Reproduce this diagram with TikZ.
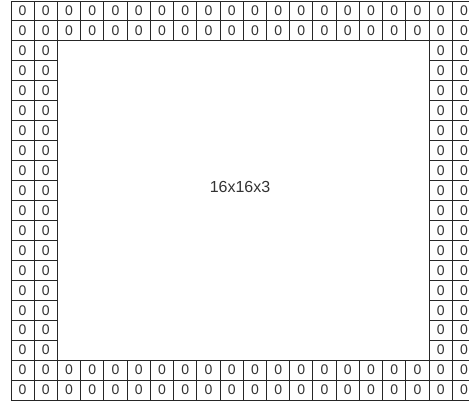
\documentclass[tikz,border=0pt]{standalone}
\usepackage{fontspec}
\setmainfont{Liberation Sans}
\begin{document}
\begin{tikzpicture}[x=1pt, y=-1pt,
    padcell/.style={draw=black!85, line width=1pt, rectangle, inner sep=0pt,
        minimum width=23.23pt, minimum height=19.95pt,
        text=black!80, font=\fontsize{14}{14}\selectfont}]
    \useasboundingbox (0,0) rectangle (469,407);

    % 上下 2 行ずつのゼロパディング
    \foreach \r in {0,1,18,19} {
        \foreach \c in {0,...,19} {
            \node[padcell] (c-\r-\c) at ({11+23.23*(\c+0.5)}, {1+19.95*(\r+0.5)}) {0};
        }
    }

    % 左右 2 列ずつのゼロパディング
    \foreach \r in {2,...,17} {
        \foreach \c in {0,1,18,19} {
            \node[padcell] (c-\r-\c) at ({11+23.23*(\c+0.5)}, {1+19.95*(\r+0.5)}) {0};
        }
    }

    % 中央の入力サイズ
    \node[text=black!80, font=\fontsize{16}{16}\selectfont] (size) at (240,187) {16x16x3};

\end{tikzpicture}
\end{document}
